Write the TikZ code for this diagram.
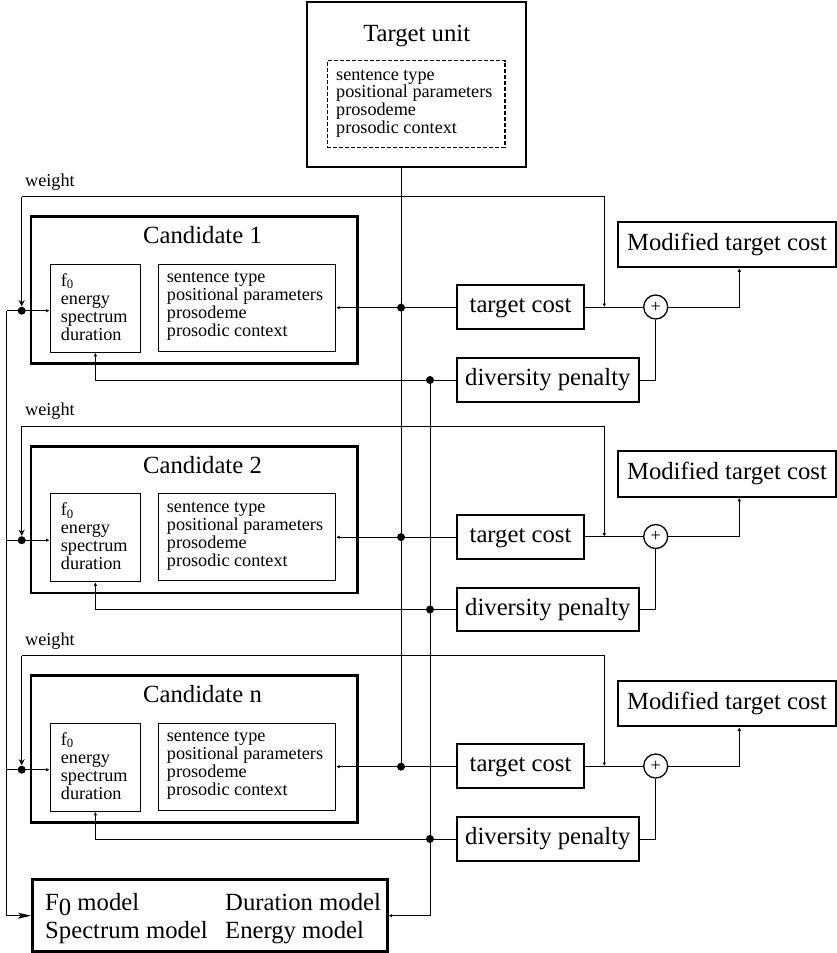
\documentclass[tikz,border=0pt]{standalone}
\usepackage{fontspec}
\setmainfont{Liberation Serif}
\usetikzlibrary{arrows.meta}
\newcommand{\smallf}{\fontsize{18.2}{18}\selectfont}
\newcommand{\bigf}{\fontsize{24.7}{28}\selectfont}
\newcommand{\featlines}[5]{% name prefix, x, y0, spacing, list
  \foreach \t [count=\i from 0] in {#5} {
    \node[txt, anchor=base west] (#1-\i) at (#2, #3+#4*\i) {\t};
  }}
\begin{document}
\begin{tikzpicture}[x=1pt, y=-1pt,
  conn/.style={line width=1pt, draw=black},
  txt/.style={font=\smallf, inner sep=0pt},
  thinbox/.style={draw, rectangle, line width=1pt, inner sep=0pt},
  midbox/.style={draw, rectangle, line width=2pt, inner sep=0pt, font=\bigf, text height=17pt, text depth=6pt},
  candbox/.style={draw, rectangle, line width=2.6pt, inner sep=0pt},
  plusc/.style={draw, circle, line width=1.3pt, minimum size=24pt, inner sep=0pt, font=\smallf},
  tipend/.style={-{Latex[length=3.5pt,width=3.5pt]}},
  tipstart/.style={{Latex[length=3.5pt,width=3.5pt]}-},
  dot/.style={fill=black}
]
\useasboundingbox (0,0) rectangle (836,953);

% Target unit
\node[draw, rectangle, line width=2pt, minimum width=218.7pt, minimum height=165pt] (tu) at (416.65,84.2) {};
\node[font=\bigf, anchor=base, inner sep=0pt] (tut) at (416.7,41.7) {Target unit};
\node[draw, rectangle, dashed, dash pattern=on 4pt off 2pt, line width=1.3pt, minimum width=177.7pt, minimum height=87pt] (tud) at (416.15,104.2) {};
\featlines{tul}{336}{80}{17.8}{sentence type, positional parameters, prosodeme, prosodic context}

% Bottom model box
\node[draw, rectangle, line width=2.6pt, minimum width=355pt, minimum height=72pt] (bm) at (209.8,915.7) {};
\node[font=\bigf, anchor=base west, inner sep=0pt] (bm1) at (45,910.5) {F\raisebox{-4.5pt}{0} model};
\node[font=\bigf, anchor=base west, inner sep=0pt] (bm2) at (45,938.5) {Spectrum model};
\node[font=\bigf, anchor=base west, inner sep=0pt] (bm3) at (225,910.5) {Duration model};
\node[font=\bigf, anchor=base west, inner sep=0pt] (bm4) at (225,938.5) {Energy model};

\foreach \k/\lab in {0/1,1/2,2/n} {
  \pgfmathsetmacro{\dy}{229.5*\k}
  \begin{scope}[yshift=-\dy pt]
    \node[txt, anchor=base west] (wl\k) at (25,186) {weight};
    \node[candbox, minimum width=326.7pt, minimum height=146.6pt] (cb\k) at (194.35,290) {};
    \node[font=\bigf, anchor=base, inner sep=0pt] (ct\k) at (202.5,243.5) {Candidate \lab};
    \node[thinbox, minimum width=90.7pt, minimum height=88pt] (f\k) at (95.35,308.3) {};
    \node[thinbox, minimum width=177.4pt, minimum height=86.7pt] (s\k) at (247,307.65) {};
    \featlines{fl\k}{60.7}{286}{18}{f\textsubscript{0}, energy, spectrum, duration}
    \featlines{sl\k}{166.7}{282.7}{18}{sentence type, positional parameters, prosodeme, prosodic context}
    \node[midbox, minimum width=127.6pt, minimum height=44.3pt] (tc\k) at (520.5,307.15) {target cost\hspace{7.4pt}};
    \node[midbox, minimum width=182.3pt, minimum height=43.4pt] (dp\k) at (547.85,380) {diversity penalty};
    \node[midbox, minimum width=217.4pt, minimum height=45.6pt] (mt\k) at (727,244.5) {Modified target cost};
    \node[plusc] (p\k) at (655.7,307) {+};
    \coordinate (L\k) at (6.7,310.7);
    \coordinate (dl\k) at (21.7,310.7);
    \coordinate (wa\k) at (21.7,306.2);
    \coordinate (wt\k) at (21.7,196.7);
    \coordinate (wc\k) at (604.3,196.7);
    \coordinate (tr\k) at (401,307.65);
    \coordinate (dr\k) at (430,380);
    \coordinate (mc\k) at (739.3,307);
    % connectors
    \draw[conn, tipend] (L\k) -- (L\k -| f\k.west);
    \draw[conn, -{Stealth[length=6pt,width=6pt,inset=2pt]}] (wt\k) -- (wa\k);
    \draw[conn, tipend] (wt\k) -- (wc\k) -- (wc\k |- p\k);
    \draw[conn, tipstart] (s\k.east) -- (s\k.east -| tc\k.west);
    \draw[conn] (tc\k.east) -- (tc\k.east -| p\k.west);
    \draw[conn, tipend] (p\k.east) -| (mt\k.south -| mc\k);
    \draw[conn] (dp\k.east) -| (p\k.south);
    \draw[conn, tipstart] (f\k.south) |- (dp\k.west);
    \fill[dot] (dl\k) circle[radius=4pt];
    \fill[dot] (tr\k) circle[radius=4pt];
    \fill[dot] (dr\k) circle[radius=4pt];
  \end{scope}
}

% global verticals
\draw[conn] (tu.south -| tr0) -- (tr2);
\draw[conn, tipstart] (bm.east) -| (dr0);
\draw[conn, -{Stealth[length=13pt,width=6pt,inset=3pt]}] (L0) |- (bm.west);
\end{tikzpicture}
\end{document}
